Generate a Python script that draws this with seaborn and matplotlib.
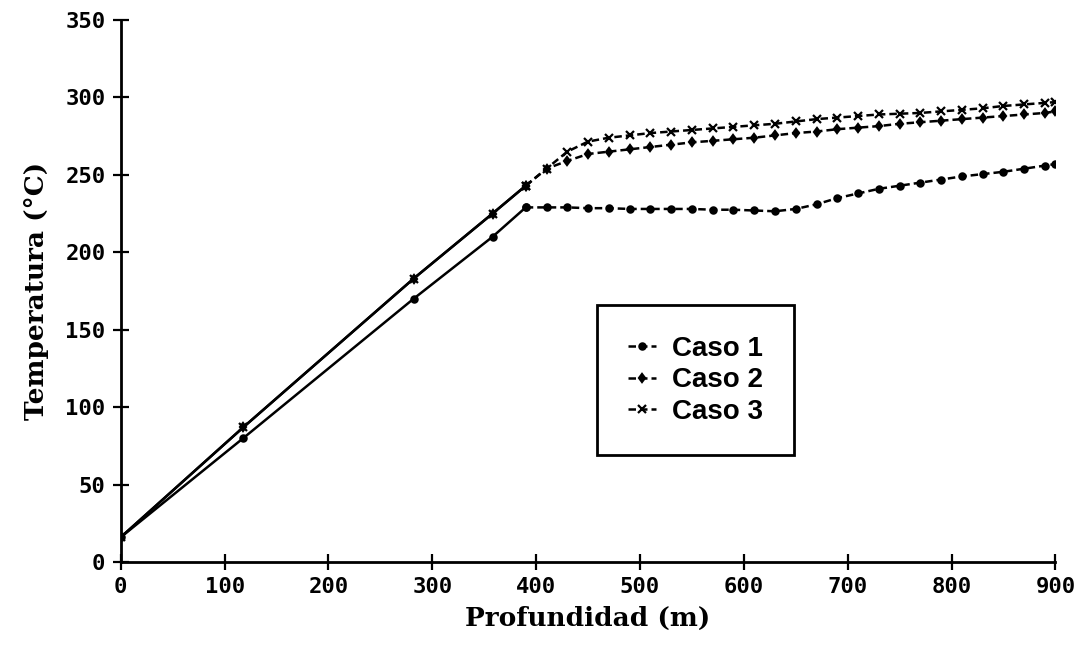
import matplotlib
matplotlib.use("Agg")
import matplotlib.pyplot as plt
import seaborn as sns

# profundidad (m) y temperatura (°C)
depth = [0, 118, 282, 358, 390, 410, 430, 450, 470, 490, 510, 530, 550, 570, 590,
         610, 630, 650, 670, 690, 710, 730, 750, 770, 790, 810, 830, 850, 870, 890, 900]

caso1 = [16, 80, 170, 210, 229, 229, 229, 228.5, 228.5, 228, 228, 228, 228, 227.5, 227.5,
         227, 226.5, 228, 231, 235, 238, 241, 243, 245, 247, 249, 250.5, 252, 254, 256, 257]
caso2 = [16, 87, 183, 225, 243, 254, 259, 263.5, 265, 266.5, 268, 269.5, 271, 272, 273,
         274, 275.5, 277, 278, 279.5, 280.5, 281.5, 283, 284, 285, 286, 287, 288, 289, 290, 291]
caso3 = [16, 87, 183, 225, 243, 254, 265, 271.5, 274, 275.5, 277, 278, 279, 280, 281,
         282, 283, 284.5, 286, 287, 288, 289, 289.5, 290, 291, 292, 293, 294.5, 295.5, 296.5, 297]

labels = ["Caso 1", "Caso 2", "Caso 3"]
markers = ["o", "d", "x"]
xticks = list(range(0, 1000, 100))
yticks = list(range(0, 400, 50))

sns.set_style("ticks")
plt.rcParams["font.family"] = ["DejaVu Sans"]
for k in ["text.color", "axes.labelcolor", "xtick.color", "ytick.color", "axes.edgecolor"]:
    plt.rcParams[k] = "black"

fig = plt.figure(figsize=(10.78, 6.46), dpi=100)
ax = fig.add_axes([0.112, 0.130, 0.867, 0.839])

split = 4  # tramo lineal continuo, luego discontinuo
for vals, lab, mk in zip([caso1, caso2, caso3], labels, markers):
    ms = 6 if mk == "x" else 4.5
    sns.lineplot(x=depth[:split + 1], y=vals[:split + 1], ax=ax, color="k", lw=1.8,
                 marker=mk, markersize=ms, mew=1.6, mec="k", errorbar=None, sort=False)
    sns.lineplot(x=depth[split:], y=vals[split:], ax=ax, color="k", lw=1.8,
                 linestyle=(0, (3, 1.6)), marker=mk, markersize=ms, mew=1.6, mec="k",
                 errorbar=None, sort=False, label=lab)

ax.set_xlim(0, 900)
ax.set_ylim(0, 350)
ax.set_xticks(xticks)
ax.set_yticks(yticks)
ax.set_xticklabels([str(t) for t in xticks], family="DejaVu Sans Mono",
                   fontweight="bold", fontsize=16)
ax.set_yticklabels([str(t) for t in yticks], family="DejaVu Sans Mono",
                   fontweight="bold", fontsize=16)
ax.tick_params(direction="inout", length=12, width=1.6, pad=5)
sns.despine(ax=ax)
for s in ["left", "bottom"]:
    ax.spines[s].set_linewidth(2)
ax.margins(0)

ax.set_xlabel("Profundidad (m)", family="DejaVu Serif", fontweight="bold", fontsize=19,
              labelpad=6)
ax.set_ylabel("Temperatura (°C)", family="DejaVu Serif", fontweight="bold", fontsize=19,
              labelpad=12)

leg = ax.legend(loc="upper left", bbox_to_anchor=(0.51, 0.474), frameon=True,
                fancybox=False, framealpha=1, handlelength=1.0, handletextpad=0.6,
                borderpad=1.1, labelspacing=0.2, borderaxespad=0,
                prop={"family": "Liberation Sans", "weight": "bold", "size": 20})
leg.get_frame().set_edgecolor("black")
leg.get_frame().set_linewidth(2)
for t in leg.get_texts():
    t.set_color("black")

fig.savefig("out.png", dpi=100, facecolor="white")
